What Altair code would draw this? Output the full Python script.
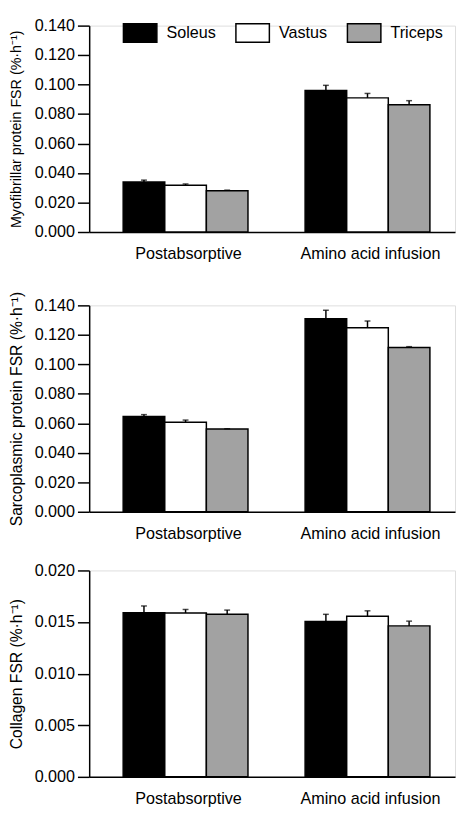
import altair as alt
import pandas as pd

conditions = ["Postabsorptive", "Amino acid infusion"]
muscles = ["Soleus", "Vastus", "Triceps"]
muscle_colors = ["#000000", "#ffffff", "#a2a2a2"]

# Myofibrillar protein FSR (%/h): means and SEM, order Soleus, Vastus, Triceps
myo_mean_post = [0.0339, 0.0317, 0.0280]
myo_sem_post = [0.0013, 0.0009, 0.0004]
myo_mean_aa = [0.0960, 0.0910, 0.0863]
myo_sem_aa = [0.0035, 0.0030, 0.0028]

# Sarcoplasmic protein FSR
sarco_mean_post = [0.0646, 0.0607, 0.0561]
sarco_sem_post = [0.0013, 0.0015, 0.0002]
sarco_mean_aa = [0.1309, 0.1248, 0.1115]
sarco_sem_aa = [0.0058, 0.0046, 0.0005]

# Collagen FSR
coll_mean_post = [0.01591, 0.01588, 0.01575]
coll_sem_post = [0.00065, 0.00034, 0.00041]
coll_mean_aa = [0.01506, 0.01556, 0.01463]
coll_sem_aa = [0.00069, 0.00053, 0.00046]

myo_ticks = [0.0, 0.02, 0.04, 0.06, 0.08, 0.10, 0.12, 0.14]
sarco_ticks = [0.0, 0.02, 0.04, 0.06, 0.08, 0.10, 0.12, 0.14]
coll_ticks = [0.0, 0.005, 0.010, 0.015, 0.020]

FONT = "Liberation Sans"
FS = 16.5
H = 211


def make_df(mp, sp, ma, sa):
    rows = []
    for cond, means, sems in [(conditions[0], mp, sp), (conditions[1], ma, sa)]:
        for m, mean, sem in zip(muscles, means, sems):
            rows.append({"condition": cond, "muscle": m, "mean": mean,
                         "upper": mean + sem})
    return pd.DataFrame(rows)


def panel(df, title, ticks, show_legend, title_fs, title_pad):
    base = alt.Chart(df)
    x = alt.X(
        "condition:N", sort=conditions,
        scale=alt.Scale(paddingInner=0.314, paddingOuter=0.1624, align=0.575),
        axis=alt.Axis(title=None, labelAngle=0, ticks=False, tickSize=0,
                      labelPadding=14, labelOffset=3, domainColor="black",
                      domainWidth=1.5, labelFontSize=FS, labelColor="black",
                      labelFont=FONT),
    )
    xoff = alt.XOffset("muscle:N", sort=muscles,
                       scale=alt.Scale(paddingInner=0, paddingOuter=0))
    if show_legend:
        leg = alt.Legend(
            title=None, orient="none", legendX=34, legendY=-3, padding=0,
            direction="horizontal",
            symbolType="M-1,-1H2.6V1H-1Z", symbolSize=361,
            symbolStrokeColor="black", symbolStrokeWidth=1.5,
            labelFontSize=FS, labelFont=FONT, labelColor="black",
            labelOffset=24, columnPadding=17,
        )
    else:
        leg = None
    color = alt.Color("muscle:N", sort=muscles,
                      scale=alt.Scale(domain=muscles, range=muscle_colors),
                      legend=leg)
    yscale = alt.Scale(domain=[ticks[0], ticks[-1]], nice=False, zero=True)
    yaxis = alt.Axis(
        title=title, values=ticks, format=".3f", tickSize=12,
        tickColor="black", tickWidth=1.5, domainColor="black",
        domainWidth=1.5, labelPadding=3, labelFontSize=FS,
        labelColor="black", labelFont=FONT, titleFontSize=title_fs,
        titleFont=FONT, titleFontWeight="normal", titleColor="black",
        titlePadding=title_pad, grid=False, labelOverlap=False,
        labelBound=False,
    )
    bars = base.mark_bar(stroke="black", strokeWidth=1.5).encode(
        x=x, xOffset=xoff, y=alt.Y("mean:Q", scale=yscale, axis=yaxis),
        color=color)
    err = base.mark_rule(color="black", strokeWidth=1.5).encode(
        x=x, xOffset=xoff, y=alt.Y("mean:Q", scale=yscale, axis=yaxis),
        y2="upper:Q")
    cap = base.mark_tick(color="black", thickness=1.5, size=6).encode(
        x=x, xOffset=xoff, y=alt.Y("upper:Q", scale=yscale, axis=yaxis))
    return alt.layer(bars, err, cap).properties(width=374, height=H)


top = panel(make_df(myo_mean_post, myo_sem_post, myo_mean_aa, myo_sem_aa),
            "Myofibrillar protein FSR (%·h⁻¹)", myo_ticks, True, 14.6, 11)
mid = panel(make_df(sarco_mean_post, sarco_sem_post, sarco_mean_aa, sarco_sem_aa),
            "Sarcoplasmic protein FSR (%·h⁻¹)", sarco_ticks, False, 16, 9.5)
bot = panel(make_df(coll_mean_post, coll_sem_post, coll_mean_aa, coll_sem_aa),
            "Collagen FSR (%·h⁻¹)", coll_ticks, False, 16, 9.5)

inner = alt.vconcat(mid, bot, spacing=20)
chart = (
    alt.vconcat(top, inner, spacing=29)
    .resolve_scale(color="independent")
    .properties(padding=0)
    .configure_view(stroke=None)
    .configure(font=FONT)
)

chart.save("out.html", embed_options={"renderer": "svg", "actions": False})
